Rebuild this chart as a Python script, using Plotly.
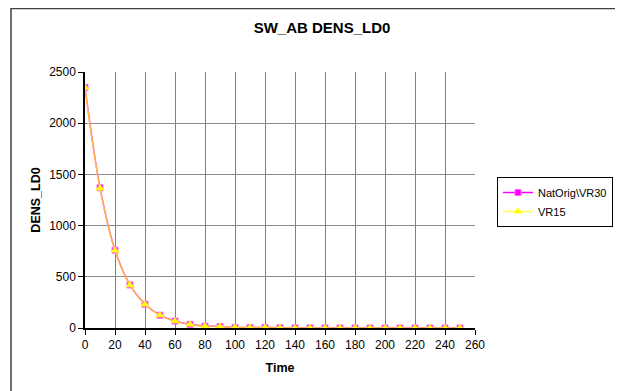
import plotly.graph_objects as go

# Time steps and values
time = [0, 10, 20, 30, 40, 50, 60, 70, 80, 90, 100, 110, 120,
        130, 140, 150, 160, 170, 180, 190, 200, 210, 220, 230, 240, 250]
natorig_vr30 = [2350, 1370, 760, 420, 232, 125, 68, 36, 18, 15, 6, 5, 6,
                2, 1, 1, 0.5, 0.3, 0.2, 0.1, 0, 0, 0, 0, 0, 0]
vr15 = [2345, 1365, 757, 418, 230, 124, 67, 35, 17, 14, 6, 5, 6,
        2, 1, 1, 0.5, 0.3, 0.2, 0.1, 0, 0, 0, 0, 0, 0]

FONT = "Liberation Sans, Arial, sans-serif"

# the page body adds an 8px offset, so work in page pixels and shift
OFF = 8
W, H = 623 - OFF, 391 - OFF
L, R, T, B = 85 - OFF, 475 - OFF, 72 - OFF, 328 - OFF


def px_x(p):
    return (p - OFF - L) / (R - L)


def px_y(p):
    return (B - (p - OFF)) / (B - T)


fig = go.Figure()

fig.add_trace(go.Scatter(
    x=time, y=natorig_vr30, name="NatOrig\\VR30",
    mode="lines+markers",
    line=dict(color="#FF00FF", width=1.5, shape="spline"),
    marker=dict(symbol="square", size=6, color="#FF00FF",
                line=dict(color="#FF66FF", width=1)),
))
fig.add_trace(go.Scatter(
    x=time, y=vr15, name="VR15",
    mode="lines+markers",
    line=dict(color="rgba(255,255,0,0.7)", width=1.5, shape="spline"),
    marker=dict(symbol="triangle-up", size=8, color="#FFFF00"),
))

fig.update_layout(
    width=W, height=H,
    margin=dict(l=L, r=W - R, t=T, b=H - B, autoexpand=False),
    paper_bgcolor="white", plot_bgcolor="white",
    font=dict(family=FONT, size=11, color="black"),
    title=dict(text="<b>SW_AB DENS_LD0</b>", x=px_x(322), xref="paper",
               xanchor="center", y=1 - (28 - OFF) / H, yanchor="middle",
               font=dict(size=15)),
    showlegend=True,
    legend=dict(x=px_x(497), y=px_y(177), xanchor="left", yanchor="top",
                bordercolor="black", borderwidth=1, bgcolor="white",
                font=dict(size=11), tracegroupgap=0),
)

fig.update_xaxes(
    range=[0, 260], dtick=20, tick0=0,
    showgrid=True, gridcolor="#808080", gridwidth=1,
    showline=True, linecolor="black", linewidth=1.5,
    ticks="outside", ticklen=5, tickcolor="black",
    tickfont=dict(size=12),
    zeroline=False,
    title=dict(text="<b>Time</b>", standoff=12, font=dict(size=12.5)),
)
fig.update_yaxes(
    range=[0, 2500], dtick=500, tick0=0,
    showgrid=True, gridcolor="#8C8C8C", gridwidth=1,
    showline=True, linecolor="black", linewidth=1.5,
    ticks="outside", ticklen=5, tickcolor="black",
    tickfont=dict(size=12),
    zeroline=False,
    title=dict(text="<b>DENS_LD0</b>", standoff=6, font=dict(size=12.5)),
)

# chart frame (its top edge sits at the very top of the figure)
fig.add_shape(type="rect", xref="paper", yref="paper",
              x0=px_x(11), x1=px_x(617), y0=px_y(398), y1=px_y(8.5),
              line=dict(color="#404040", width=1.5), layer="below")

fig.write_html("out.html")
